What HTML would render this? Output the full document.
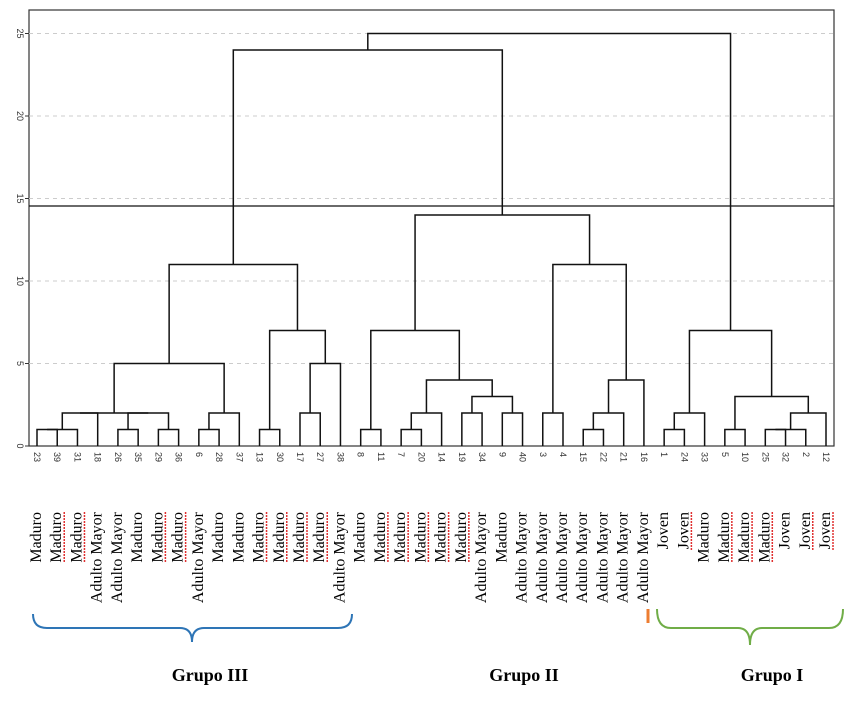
<!DOCTYPE html>
<html><head><meta charset="utf-8"><style>
body{margin:0;background:#fff;}
svg{display:block;}
.lab{font-family:"Liberation Serif",serif;font-size:16px;fill:#000;}
.grp{font-family:"Liberation Serif",serif;font-size:18px;font-weight:bold;fill:#000;}
.tk{font-family:"Liberation Sans",sans-serif;font-size:9px;fill:#333;}
</style></head><body>
<svg id="c" width="860" height="706" xmlns="http://www.w3.org/2000/svg">
<rect x="29" y="10" width="805" height="436" fill="none" stroke="#333" stroke-width="1.2"/>
<g id="grid"></g><g id="tree"></g><g id="ticks"></g><g id="labels"></g>
<line x1="29" y1="206" x2="834" y2="206" stroke="#111" stroke-width="1.3"/>
<path d="M33 614 Q33 628 47 628 L180 628 Q192 628 192 642 Q192 628 204 628 L338 628 Q352 628 352 614" fill="none" stroke="#2e75b6" stroke-width="2"/>
<line x1="648" y1="609" x2="648" y2="623" stroke="#ed7d31" stroke-width="3"/>
<path d="M657 609 Q657 628 671 628 L738 628 Q750 628 750 645 Q750 628 762 628 L829 628 Q843 628 843 609" fill="none" stroke="#70ad47" stroke-width="2"/>
<text class="grp" x="210" y="681" text-anchor="middle">Grupo III</text>
<text class="grp" x="524" y="681" text-anchor="middle">Grupo II</text>
<text class="grp" x="772" y="681" text-anchor="middle">Grupo I</text>
</svg>
<script>
const leaves=["23","39","31","18","26","35","29","36","6","28","37","13","30","17","27","38","8","11","7","20","14","19","34","9","40","3","4","15","22","21","16","1","24","33","5","10","25","32","2","12"];
const categories=["Maduro","Maduro*","Maduro*","Adulto Mayor","Adulto Mayor","Maduro","Maduro*","Maduro*","Adulto Mayor","Maduro","Maduro","Maduro*","Maduro*","Maduro*","Maduro*","Adulto Mayor","Maduro","Maduro*","Maduro*","Maduro*","Maduro*","Maduro*","Adulto Mayor","Maduro","Adulto Mayor","Adulto Mayor","Adulto Mayor","Adulto Mayor","Adulto Mayor","Adulto Mayor","Adulto Mayor","Joven","Joven*","Maduro","Maduro*","Maduro*","Maduro*","Joven","Joven*","Joven*"];
const mergeA=["23","c0","c1","26","29","c3","c2","6","c7","c6","13","17","c11","c10","c9","8","7","c16","19","9","c18","c17","c15","3","15","c24","c25","c23","c22","c14","1","c30","5","25","c33","c34","c32","c31","c29"];
const mergeB=["39","31","18","35","36","c4","c5","28","37","c8","30","27","38","c12","c13","11","20","14","34","40","c19","c20","c21","4","22","21","16","c26","c27","c28","24","33","10","32","2","12","c35","c36","c37"];
const mergeH=[1,1,2,1,1,2,2,1,2,5,1,2,5,7,11,1,1,2,2,2,3,4,7,2,1,2,4,11,14,24,1,2,1,1,1,2,3,7,25];
const yTicks=[0,5,10,15,20,25];
const NS="http://www.w3.org/2000/svg";
const x0=37,dx=(826-37)/39,yb=446,sc=16.5;
const X=i=>x0+i*dx, Y=v=>yb-v*sc;
function mk(t,a,p){const e=document.createElementNS(NS,t);for(const k in a)e.setAttribute(k,a[k]);document.getElementById(p).appendChild(e);return e;}
yTicks.forEach(v=>{
 if(v>0){const g=mk('line',{x1:29,x2:834,y1:Y(v),y2:Y(v),stroke:'#ccc','stroke-dasharray':'4 4'},'grid');
 
 }
 const t=mk('line',{x1:25,x2:29,y1:Y(v),y2:Y(v),stroke:'#333'},'ticks');
 
 
 const l=mk('text',{class:'tk',transform:`translate(17,${Y(v)}) rotate(90)`,'text-anchor':'middle'},'ticks');l.textContent=v;
 
 
});
const pos={};
leaves.forEach((n,i)=>{pos[n]={x:X(i),h:0};
 const t=mk('text',{class:'tk',transform:`translate(${X(i)-3},452) rotate(90)`},'ticks');t.textContent=n;
 
 
 const c=categories[i],w=c.endsWith('*');
 const l=mk('text',{class:'lab',transform:`translate(${X(i)+4},512) rotate(-90)`,'text-anchor':'end'},'labels');
 l.textContent=w?c.slice(0,-1):c;
 
 
 if(w){const len=c.startsWith('Joven')?38:50;
  const u=mk('line',{x1:X(i)+7,x2:X(i)+7,y1:512,y2:512+len,stroke:'#e03030','stroke-width':1.5,'stroke-dasharray':'2 1'},'labels');
  
  }
});
mergeA.forEach((a,i)=>{
 const A=pos[a],B=pos[mergeB[i]],h=mergeH[i];
 const p=mk('path',{d:`M${A.x} ${Y(A.h)}V${Y(h)}H${B.x}V${Y(B.h)}`,fill:'none',stroke:'#111','stroke-width':1.5},'tree');
 
 
 pos['c'+i]={x:(A.x+B.x)/2,h:h};
});
</script>
</body></html>
